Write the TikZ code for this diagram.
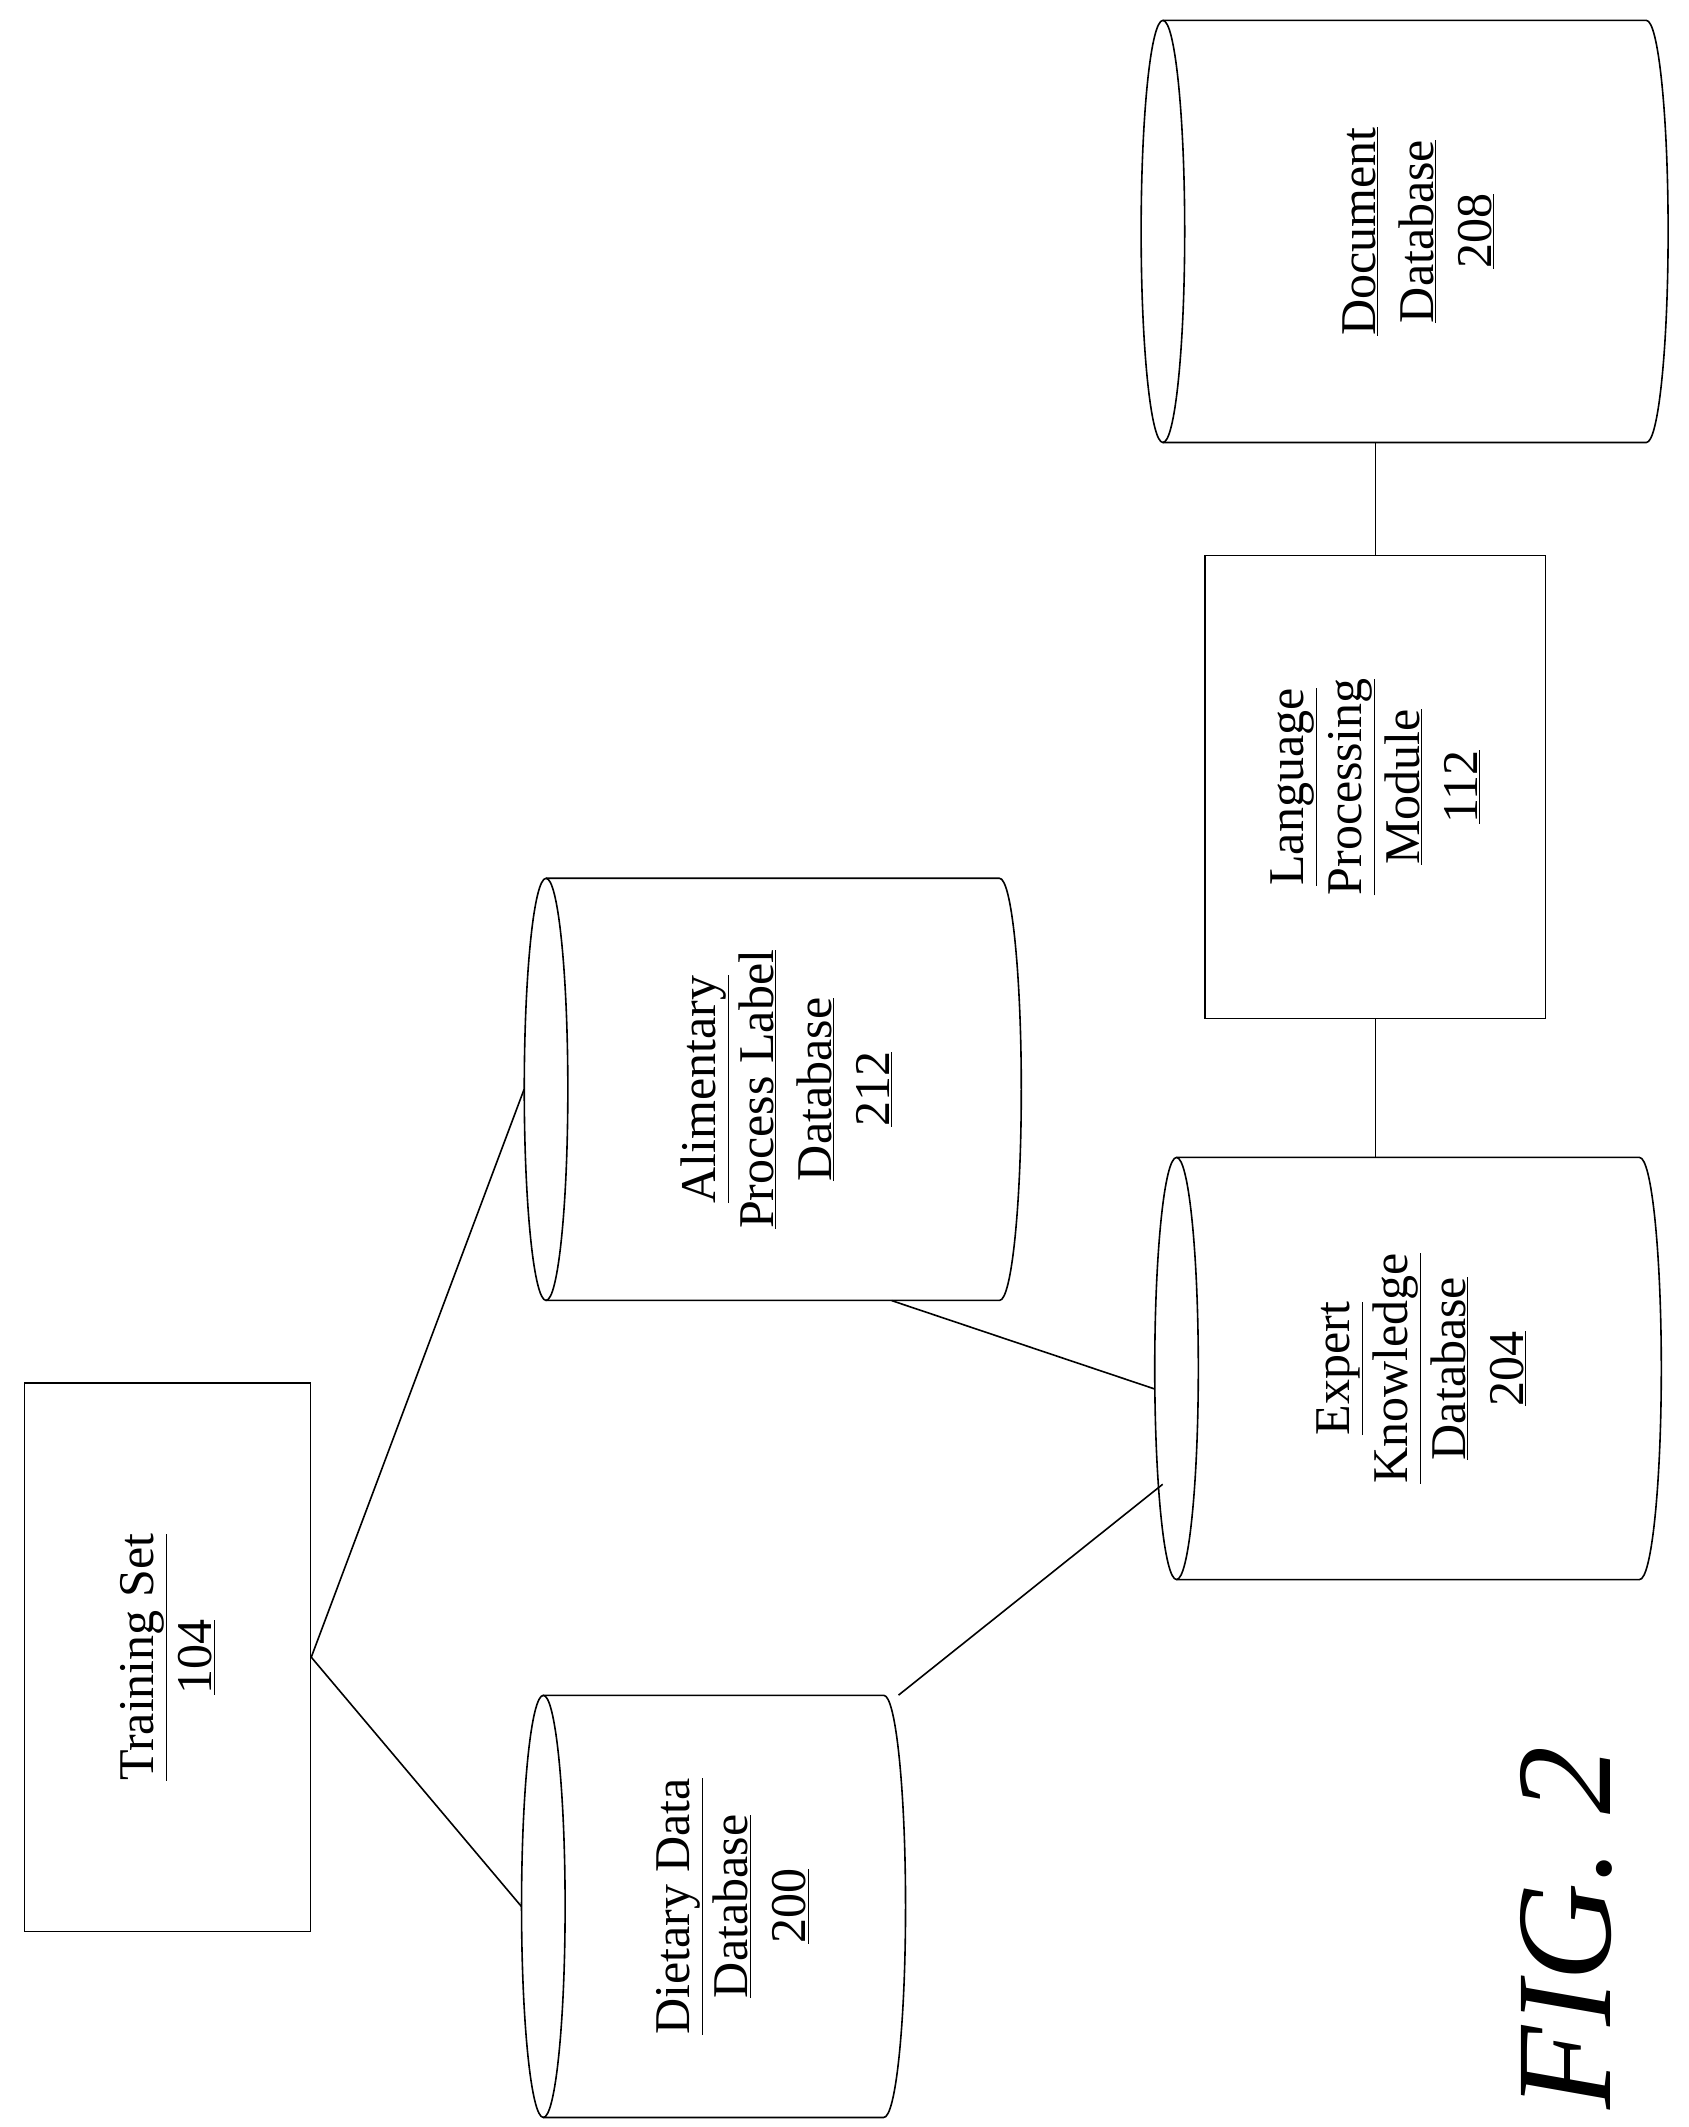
\documentclass[tikz,border=0pt]{standalone}
\usepackage{fontspec}
\setmainfont{Liberation Serif}
\usetikzlibrary{calc,fit}

\tikzset{
  outline/.style={draw=black, line width=1.6pt},
  label/.style={rotate=90, align=center, font=\fontsize{50}{58}\selectfont},
}

% cylinder lying on its side: name, x1, x2, ybottom, ytop
\newcommand\dbcyl[5]{%
  \pgfmathsetmacro\cyry{(#5-#4)/2}%
  \pgfmathsetmacro\cyyc{(#5+#4)/2}%
  \draw[outline] (#2+16,#5) -- (#3-16,#5) arc[start angle=90, end angle=-90, x radius=16, y radius=\cyry] -- (#2+16,#4);
  \draw[outline] (#2+16,\cyyc) ellipse [x radius=16, y radius=\cyry];
  \path (#2,#4) coordinate (#1-sw) (#3,#5) coordinate (#1-ne);
  \node[fit=(#1-sw)(#1-ne), inner sep=0pt] (#1) {};
}

\begin{document}
\begin{tikzpicture}[x=1.3613pt, y=1.3613pt]
    \useasboundingbox (0,0) rectangle (1240,1562);

    \node[outline, minimum width=210*1.3613pt, minimum height=403*1.3613pt] (train) at (123,345) {};
    \node[label] (trainlbl) at (train) {\underline{Training Set}\\\underline{104}};

    \dbcyl{diet}{383}{665}{7}{317}
    \node[label] (dietlbl) at ($(diet)+(14,0)$) {\underline{Dietary Data}\\\underline{Database}\\\underline{200}};

    \dbcyl{alim}{385}{750}{607}{917}
    \node[label] (alimlbl) at ($(alim)+(10,0)$) {\underline{Alimentary}\\\underline{Process Label}\\\underline{Database}\\\underline{212}};

    \dbcyl{expert}{848}{1220}{402}{712}
    \node[label] (expertlbl) at ($(expert)+(10,0)$) {\underline{Expert}\\\underline{Knowledge}\\\underline{Database}\\\underline{204}};

    \node[outline, minimum width=250*1.3613pt, minimum height=340*1.3613pt] (lpm) at (1010,984) {};
    \node[label] (lpmlbl) at (lpm) {\underline{Language}\\\underline{Processing}\\\underline{Module}\\\underline{112}};

    \dbcyl{docdb}{838}{1225}{1237}{1547}
    \node[label] (docdblbl) at ($(docdb)+(10,0)$) {\underline{Document}\\\underline{Database}\\\underline{208}};

    \node[rotate=90, font=\fontsize{136}{136}\selectfont\itshape] (fig) at (1150,146) {FIG. 2};

    \draw[outline] (train.east) -- (diet.west);
    \draw[outline] (train.east) -- (alim.west);
    \draw[outline] ($(alim.south west)+(270,0)$) -- ($(expert.west)+(0,-15)$);
    \draw[outline] ($(diet.north west)+(277,0)$) -- ($(expert.west)+(6,-85)$);
    \draw[outline] (lpm.south) -- (lpm.south |- expert.north);
    \draw[outline] (lpm.north) -- (lpm.north |- docdb.south);
\end{tikzpicture}
\end{document}
